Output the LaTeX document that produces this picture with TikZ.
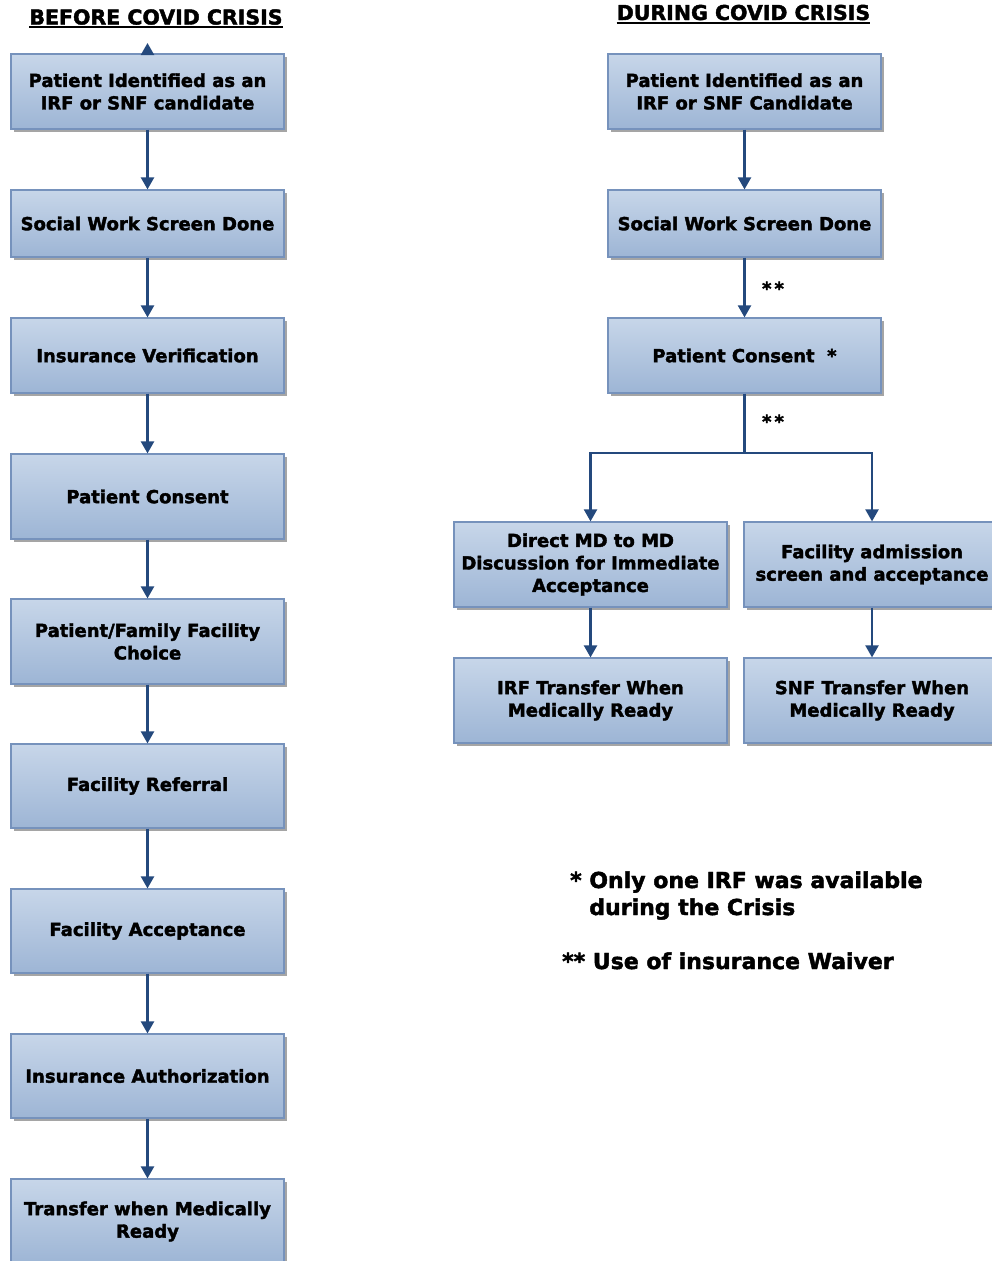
\documentclass[tikz,border=0pt]{standalone}
\usepackage{fontspec}
\setmainfont{DejaVu Sans}[BoldFeatures={FakeBold=2}]
\usetikzlibrary{arrows.meta,shadows}
\definecolor{boxtop}{RGB}{199,214,233}
\definecolor{boxbot}{RGB}{157,181,213}
\definecolor{boxline}{RGB}{118,146,188}
\definecolor{arrblue}{RGB}{36,73,125}
\definecolor{shadowgray}{RGB}{150,150,150}
\tikzset{
  flowbox/.style={rectangle, draw=boxline, line width=1.2pt,
    top color=boxtop, bottom color=boxbot,
    minimum width=273pt, align=center, inner sep=2pt,
    font=\fontsize{18}{22.5}\selectfont\bfseries,
    drop shadow={shadow xshift=3pt, shadow yshift=-3pt, fill=shadowgray, opacity=0.85}},
  flow/.style={draw=arrblue, line width=2.2pt, -{Triangle[width=13pt,length=12pt]}},
  plainline/.style={draw=arrblue, line width=2.2pt},
  titletext/.style={font=\fontsize{20.5}{24}\selectfont\bfseries, inner sep=0pt},
  underl/.style={line width=2pt, black},
  notetext/.style={font=\fontsize{22}{27}\selectfont\bfseries, inner sep=0pt, align=left},
  starlabel/.style={font=\fontsize{18}{20}\selectfont\bfseries, inner sep=0pt},
}
\begin{document}
\begin{tikzpicture}[x=1pt,y=-1pt]
\useasboundingbox (0,0) rectangle (991,1261);
\fill[white] (0,0) rectangle (991,1261);

% titles
\node[titletext, anchor=base] (t1) at (156,24.5) {BEFORE COVID CRISIS};
\node[titletext, anchor=base] (t2) at (743.5,20) {DURING COVID CRISIS};
\draw[underl] ([yshift=-2.8pt]t1.base west) -- ([yshift=-2.8pt]t1.base east);
\draw[underl] ([yshift=-2.8pt]t2.base west) -- ([yshift=-2.8pt]t2.base east);

% left column
\node[flowbox, minimum height=75pt] (L1) at (147.5,91.5) {Patient Identified as an\\IRF or SNF candidate};
\node[flowbox, minimum height=67pt] (L2) at (147.5,223.5) {Social Work Screen Done};
\node[flowbox, minimum height=75pt] (L3) at (147.5,355.5) {Insurance Verification};
\node[flowbox, minimum height=85pt] (L4) at (147.5,496.5) {Patient Consent};
\node[flowbox, minimum height=85pt] (L5) at (147.5,641.5) {Patient/Family Facility\\Choice};
\node[flowbox, minimum height=84pt] (L6) at (147.5,786) {Facility Referral};
\node[flowbox, minimum height=84pt] (L7) at (147.5,931) {Facility Acceptance};
\node[flowbox, minimum height=84pt] (L8) at (147.5,1076) {Insurance Authorization};
\node[flowbox, minimum height=85pt] (L9) at (147.5,1221.5) {Transfer when Medically\\Ready};

\coordinate (stub) at (147.5,43);
\draw[flow] (L1.north) -- (stub);
\draw[flow] (L1.south) -- (L2.north);
\draw[flow] (L2.south) -- (L3.north);
\draw[flow] (L3.south) -- (L4.north);
\draw[flow] (L4.south) -- (L5.north);
\draw[flow] (L5.south) -- (L6.north);
\draw[flow] (L6.south) -- (L7.north);
\draw[flow] (L7.south) -- (L8.north);
\draw[flow] (L8.south) -- (L9.north);

% right column
\node[flowbox, minimum height=75pt] (R1) at (744.5,91.5) {Patient Identified as an\\IRF or SNF Candidate};
\node[flowbox, minimum height=67pt] (R2) at (744.5,223.5) {Social Work Screen Done};
\node[flowbox, minimum height=75pt] (R3) at (744.5,355.5) {Patient Consent\ \ *};
\node[flowbox, minimum height=85pt] (R4a) at (590.5,564.5) {Direct MD to MD\\Discussion for Immediate\\Acceptance};
\node[flowbox, minimum height=85pt, minimum width=256pt] (R4b) at (872,564.5) {Facility admission\\screen and acceptance};
\node[flowbox, minimum height=85pt] (R5a) at (590.5,700.5) {IRF Transfer When\\Medically Ready};
\node[flowbox, minimum height=85pt, minimum width=256pt] (R5b) at (872,700.5) {SNF Transfer When\\Medically Ready};

\draw[flow] (R1.south) -- (R2.north);
\draw[flow] (R2.south) -- (R3.north);
\node[starlabel, anchor=base] (s1) at (773,295) {*\,*};
\coordinate (split) at (744.5,453);
\draw[plainline] (R3.south) -- (split);
\draw[flow] (split) -| (R4a.north);
\draw[flow] (split) -| (R4b.north);
\node[starlabel, anchor=base] (s2) at (773,428) {*\,*};
\draw[flow] (R4a.south) -- (R5a.north);
\draw[flow] (R4b.south) -- (R5b.north);

% notes
\node[notetext, anchor=base west] (n1) at (570,915) {* Only one IRF was available\\\phantom{*}\ during the Crisis};
\node[notetext, anchor=base west] (n2) at (562,969) {** Use of insurance Waiver};
\end{tikzpicture}
\end{document}
